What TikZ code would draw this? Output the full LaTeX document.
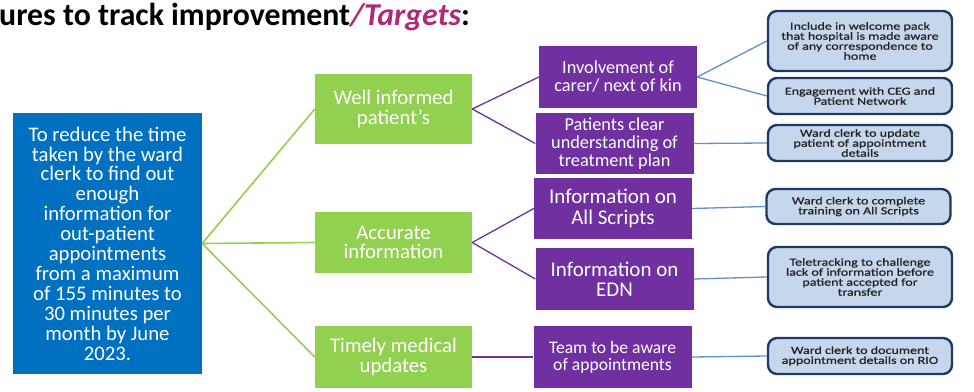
\documentclass[tikz,border=0pt]{standalone}
\usepackage{fontspec}
\setmainfont{Carlito}
\newfontfamily\widecal[FakeStretch=1.3,FakeBold=0.8]{Carlito}
\usetikzlibrary{positioning}
\usetikzlibrary{graphs}

\definecolor{goalblue}{RGB}{0,112,192}
\definecolor{areagreen}{RGB}{146,208,80}
\definecolor{actpurple}{RGB}{112,48,160}
\definecolor{ideafill}{RGB}{198,214,236}
\definecolor{ideaborder}{RGB}{31,56,100}
\definecolor{ideatext}{RGB}{35,35,35}
\definecolor{linkblue}{RGB}{96,144,204}
\definecolor{targetpink}{RGB}{176,40,120}

\begin{document}
\begin{tikzpicture}[x=1pt,y=-1pt,
      goalbox/.style={rectangle,fill=goalblue,text=white,inner sep=0pt,
        minimum width=189pt,minimum height=261pt,align=center,
        font=\fontsize{20.7}{19.9}\selectfont},
      areabox/.style={rectangle,fill=areagreen,text=white,inner sep=0pt,
        minimum width=157pt,align=center,font=\fontsize{20.8}{19.5}\selectfont},
      actbox/.style={rectangle,fill=actpurple,text=white,inner sep=0pt,
        minimum width=158pt,align=center,font=\fontsize{18.3}{18}\selectfont},
      ideabox/.style={rectangle,fill=ideafill,draw=ideaborder,line width=2.4pt,
        rounded corners=9pt,text=ideatext,inner sep=0pt,minimum width=184pt,
        align=center,font=\widecal\fontsize{10.8}{10}\selectfont},
      greenlink/.style={draw=areagreen,line width=1.6pt,
        to path={(\tikztostart.east) -- (\tikztotarget.west)}},
      purplelink/.style={draw=actpurple,line width=1.3pt,
        to path={(\tikztostart.east) -- (\tikztotarget.west)}},
      bluelink/.style={draw=linkblue,line width=1.3pt,
        to path={(\tikztostart.east) -- (\tikztotarget.west)}}]
\useasboundingbox (0,0) rectangle (974,391);
\node (title) [anchor=base west,inner sep=0pt] at (-1,25)
  {\fontsize{31.8}{36}\selectfont\bfseries ures to track improvement\textcolor{targetpink}{\itshape/Targets}:};
% goal
\node (goal) [goalbox] at (107.5,243.5) {To reduce the time\\taken by the ward\\clerk to find out\\enough\\information for\\out-patient\\appointments\\from a maximum\\of 155 minutes to\\30 minutes per\\month by June\\2023.};
% areas
\node (wip) [areabox,minimum height=70pt] at (393.5,109) {Well informed\\patient's};
\node (acc) [areabox,minimum height=61pt] at (393.5,242.5) {Accurate\\information};
\node (tmu) [areabox,minimum height=62pt] at (393.5,357) {Timely medical\\updates};
% actions
\node (inv) [actbox,minimum height=62pt] at (618,77) {Involvement of\\carer/ next of kin};
\node (pcu) [actbox,minimum height=61pt] at (614.5,143.5) {Patients clear\\understanding of\\treatment plan};
\node (ias) [actbox,minimum height=61pt,font=\fontsize{21}{20.5}\selectfont] at (613,208.5) {Information on\\All Scripts};
\node (ied) [actbox,minimum height=62pt,font=\fontsize{21}{20.5}\selectfont] at (614.5,279) {Information on\\EDN};
\node (team) [actbox,minimum height=62pt,font=\fontsize{17.6}{17}\selectfont] at (612.5,357) {Team to be aware\\of appointments};
% ideas
\node (wel) [ideabox,minimum height=60pt] at (860,41) {Include in welcome pack\\that hospital is made aware\\of any correspondence to\\home};
\node (ceg) [ideabox,minimum height=36pt] at (860,96) {Engagement with CEG and\\Patient Network};
\node (upd) [ideabox,minimum height=36pt] at (860,143) {Ward clerk to update\\patient of appointment\\details};
\node (trn) [ideabox,minimum height=35pt] at (858.5,206.5) {Ward clerk to complete\\training on All Scripts};
\node (tel) [ideabox,minimum height=60pt] at (860,277) {Teletracking to challenge\\lack of information before\\patient accepted for\\transfer};
\node (rio) [ideabox,minimum height=36pt] at (860,356) {Ward clerk to document\\appointment details on RIO};
\graph {
  (goal) --[greenlink] {(wip), (acc), (tmu)};
  (wip) --[purplelink] {(inv), (pcu)};
  (acc) --[purplelink] {(ias), (ied)};
  (tmu) --[purplelink] (team);
  (inv) --[bluelink] {(wel), (ceg)};
  (pcu) --[bluelink] (upd);
  (ias) --[bluelink] (trn);
  (ied) --[bluelink] (tel);
  (team) --[bluelink] (rio);
};
\end{tikzpicture}
\end{document}
